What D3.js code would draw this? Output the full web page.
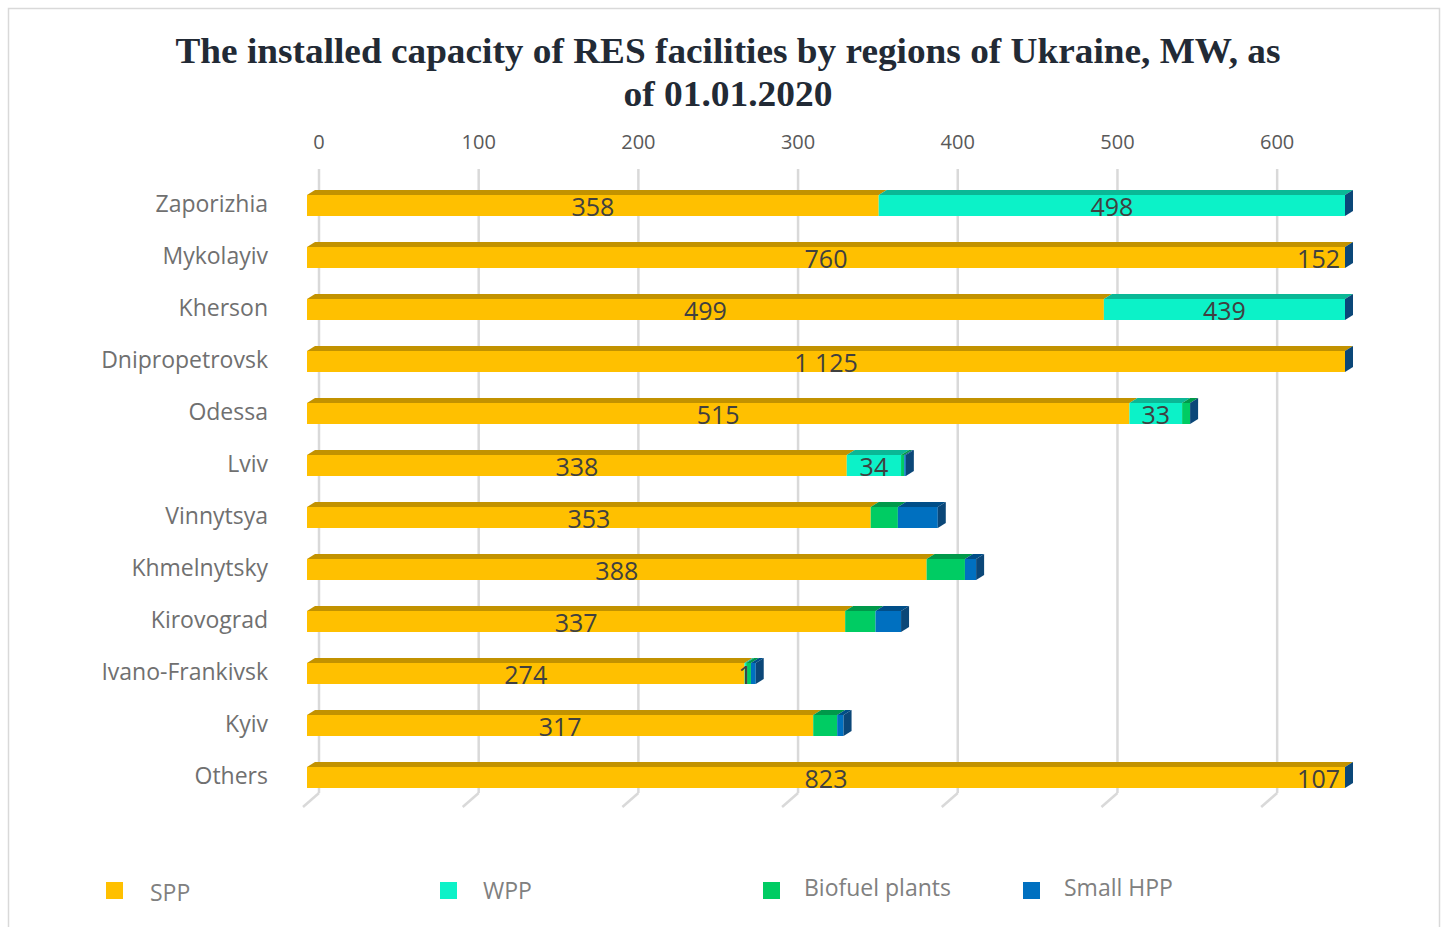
<!DOCTYPE html>
<html lang="en">
<head>
    <meta charset="UTF-8">
    <script src="https://cdn.jsdelivr.net/npm/d3@7"></script>
    <title>RES capacity by regions of Ukraine</title>
    <style>
        body { margin: 0; background: #fff; }
        svg text { font-family: "Open Sans", "Noto Sans", sans-serif; }
    </style>
</head>
<body>
<svg width="1448" height="927"></svg>
<script>
    // data (MW)
    var regions = ["Zaporizhia", "Mykolayiv", "Kherson", "Dnipropetrovsk", "Odessa", "Lviv",
        "Vinnytsya", "Khmelnytsky", "Kirovograd", "Ivano-Frankivsk", "Kyiv", "Others"];
    var spp = [358, 760, 499, 1125, 515, 338, 353, 388, 337, 274, 317, 823];
    var wpp = [498, 152, 439, 0, 33, 34, 0, 0, 0, 1, 0, 107];
    var biofuel = [0, 0, 0, 0, 5, 2, 17, 24, 19, 3, 15, 0];
    var smallHpp = [0, 0, 0, 0, 0, 1, 25, 7, 16, 3, 4, 0];
    var seriesNames = ["SPP", "WPP", "Biofuel plants", "Small HPP"];
    var ticks = [0, 100, 200, 300, 400, 500, 600];

    var colors = {front: ["#FFC000", "#0CF2C8", "#00CC63", "#0070C0"],
        top: ["#C29200", "#0AB896", "#00994A", "#004E88"]};
    var sideColor = "#0B4778";
    var svg = d3.select("svg");

    var x = d3.scaleLinear().domain([0, 650]).range([307, 1345]);
    var y = d3.scaleBand().domain(regions).range([179.5, 803.5])
        .paddingInner(31 / 52).paddingOuter(31 / 104);
    var depth = {dx: 8, dy: 5}, back = 12;

    // frame
    svg.append("rect").attr("x", 8.5).attr("y", 8.5).attr("width", 1431).attr("height", 930)
        .attr("fill", "none").attr("stroke", "#d9d9d9").attr("stroke-width", 1.5);

    // title
    var title = svg.append("text").attr("text-anchor", "middle").attr("fill", "#222A35")
        .style("font-family", "'Liberation Serif', 'Times New Roman', serif")
        .style("font-weight", "bold").style("font-size", "36px");
    title.append("tspan").attr("x", 728).attr("y", 63).attr("textLength", 1105)
        .attr("lengthAdjust", "spacingAndGlyphs")
        .text("The installed capacity of RES facilities by regions of Ukraine, MW, as");
    title.append("tspan").attr("x", 728).attr("y", 106).attr("textLength", 209)
        .attr("lengthAdjust", "spacingAndGlyphs").text("of 01.01.2020");

    // gridlines on back wall + floor ticks
    var grid = svg.append("g");
    grid.selectAll("line.v").data(ticks).enter().append("line")
        .attr("x1", function (d) { return x(d) + back; })
        .attr("x2", function (d) { return x(d) + back; })
        .attr("y1", 169).attr("y2", 793)
        .attr("stroke", "#d9d9d9").attr("stroke-width", 2.5);
    grid.selectAll("line.f").data(ticks).enter().append("line")
        .attr("x1", function (d) { return x(d) + back; })
        .attr("x2", function (d) { return x(d) - 4; })
        .attr("y1", 793).attr("y2", 807)
        .attr("stroke", "#d9d9d9").attr("stroke-width", 2.5);
    svg.selectAll("text.tick").data(ticks).enter().append("text")
        .attr("x", function (d) { return x(d) + back; })
        .attr("y", 149).attr("text-anchor", "middle")
        .attr("fill", "#595959").style("font-size", "20px")
        .text(function (d) { return d; });

    // category labels
    svg.selectAll("text.cat").data(regions).enter().append("text")
        .attr("x", 268).attr("y", function (d) { return y(d) + y.bandwidth() / 2 - 2; })
        .attr("dy", "0.35em").attr("text-anchor", "end")
        .attr("fill", "#707070").style("font-size", "23px")
        .text(function (d) { return d; });

    // bars
    var seriesData = [spp, wpp, biofuel, smallHpp];
    var bh = y.bandwidth();
    regions.forEach(function (r, i) {
        var g = svg.append("g");
        var y0 = y(r);
        var acc = 0, endX = x(0);
        seriesData.forEach(function (s, k) {
            var v = s[i];
            var a = Math.min(acc, 650), b = Math.min(acc + v, 650);
            acc += v;
            if (b > a) {
                var xa = x(a), xb = x(b);
                g.append("rect").attr("x", xa).attr("y", y0).attr("width", xb - xa).attr("height", bh)
                    .attr("fill", colors.front[k]);
                g.append("path")
                    .attr("d", "M" + xa + "," + y0 + "L" + (xa + depth.dx) + "," + (y0 - depth.dy) +
                        "L" + (xb + depth.dx) + "," + (y0 - depth.dy) + "L" + xb + "," + y0 + "Z")
                    .attr("fill", colors.top[k]);
                endX = xb;
            }
        });
        // right side face
        g.append("path")
            .attr("d", "M" + endX + "," + y0 + "L" + (endX + depth.dx) + "," + (y0 - depth.dy) +
                "L" + (endX + depth.dx) + "," + (y0 + bh - depth.dy) + "L" + endX + "," + (y0 + bh) + "Z")
            .attr("fill", sideColor);

        // value labels for SPP and WPP
        var start = 0;
        [spp, wpp].forEach(function (s, k) {
            var v = s[i];
            if (v > 0) {
                var a = Math.min(start, 650), b = Math.min(start + v, 650);
                var lx, anchor = "middle";
                if (b > a) {
                    lx = (x(a) + x(b)) / 2;
                } else {
                    lx = x(650) - 5;
                    anchor = "end";
                }
                g.append("text").attr("x", lx).attr("y", y0 + bh / 2 + 2).attr("dy", "0.35em")
                    .attr("text-anchor", anchor).attr("fill", "#404040").style("font-size", "25px")
                    .text(d3.format(",")(v).replace(",", " "));
            }
            start += v;
        });
    });

    // legend
    var legendX = [106, 440, 763, 1023];
    var legendTextX = [150, 483, 804, 1064];
    var legendY = [901, 899, 896, 896];
    var lg = svg.append("g");
    seriesNames.forEach(function (n, k) {
        lg.append("rect").attr("x", legendX[k]).attr("y", 882).attr("width", 17).attr("height", 17)
            .attr("fill", colors.front[k]);
        lg.append("text").attr("x", legendTextX[k]).attr("y", legendY[k])
            .attr("fill", "#808080").style("font-size", "23px").text(n);
    });
</script>
</body>
</html>
